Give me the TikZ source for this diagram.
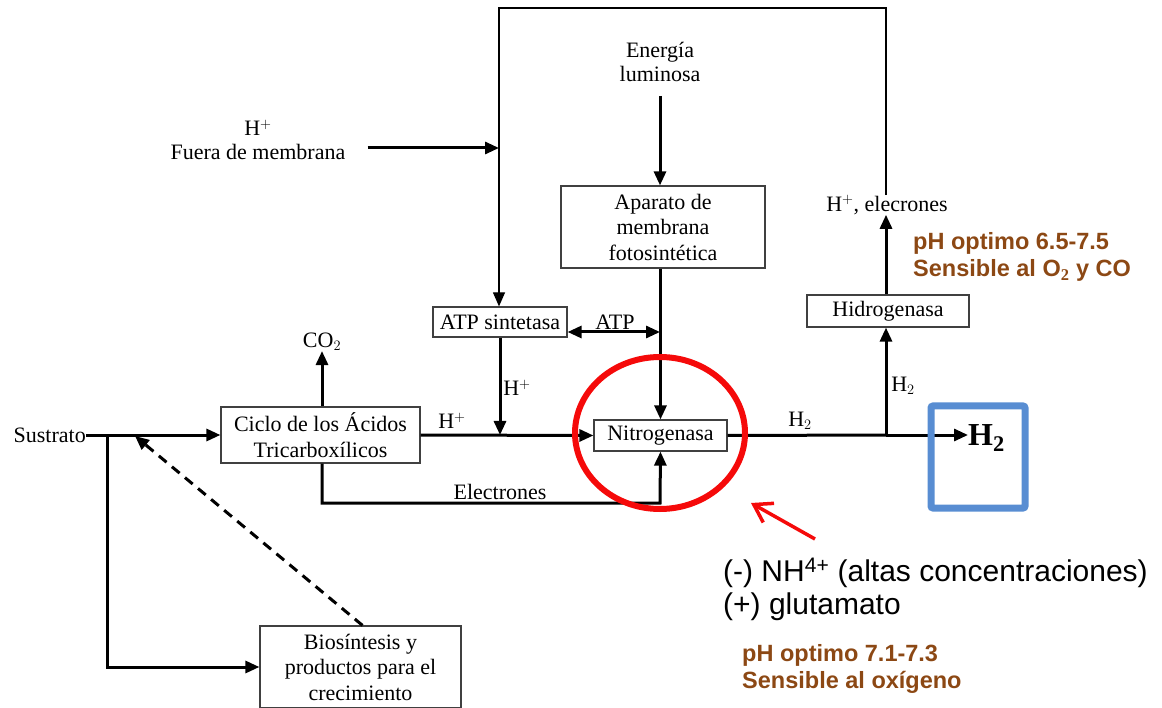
\documentclass[tikz,border=0pt]{standalone}
\usepackage{fontspec}
\setmainfont{Liberation Serif}
\newfontfamily\arial{Liberation Sans}
\usetikzlibrary{arrows.meta,calc}
\definecolor{notebrown}{RGB}{140,72,20}
\definecolor{markred}{RGB}{245,10,10}
\definecolor{markblue}{RGB}{88,141,210}
\tikzset{
  lbl/.style={inner sep=0pt,align=center,font=\fontsize{22}{24}\selectfont},
  procbox/.style={draw=black!75,line width=1.2pt,inner sep=0pt,align=center,
    font=\fontsize{22}{25.5}\selectfont},
  tip/.tip={Triangle[length=14pt,width=12pt]},
  flow/.style={line width=3pt,-tip},
  flowline/.style={line width=3pt},
  thinflow/.style={line width=1.2pt,-tip},
  note/.style={inner sep=0pt,anchor=west,align=left,font=\arial\fontsize{30}{34}\selectfont},
  brownnote/.style={inner sep=0pt,anchor=west,align=left,text=notebrown,
    font=\arial\bfseries\fontsize{23.5}{27}\selectfont},
}
\begin{document}
\begin{tikzpicture}[x=1pt,y=-1pt]
\useasboundingbox (0,0) rectangle (1162,708);

% process boxes
\node[procbox,minimum width=199pt,minimum height=56pt] (ciclo) at (320.5,435)
  {Ciclo de los Ácidos\\Tricarboxílicos};
\node[procbox,minimum width=133pt,minimum height=31pt] (nitro) at (660.5,435.5) {Nitrogenasa};
\node[procbox,minimum width=134pt,minimum height=30pt] (atp) at (500,322) {ATP sintetasa};
\node[procbox,minimum width=204pt,minimum height=82pt] (apar) at (663,227)
  {Aparato de\\membrana\\fotosintética};
\node[procbox,minimum width=162pt,minimum height=32pt] (hidro) at (888,311) {Hidrogenasa};
\node[procbox,minimum width=201pt,minimum height=82pt] (bio) at (360.5,667)
  {Biosíntesis y\\productos para el\\crecimiento};

% free labels
\node[lbl,anchor=east] (sus) at (86,435) {Sustrato};
\node[lbl] (energia) at (660,62) {Energía\\luminosa};
\node[lbl] (fuera) at (258,140) {H$^{+}$\\Fuera de membrana};
\node[lbl] (co2) at (322,342) {CO$_2$};
\node[lbl] (helec) at (887,205) {H$^{+}$, elecrones};
\node[inner sep=0pt,anchor=west,font=\bfseries\fontsize{32}{36}\selectfont] (h2big) at (968,438) {H$_\mathbf{2}$};
\node[lbl] (lh1) at (452,421) {H$^{+}$};
\node[lbl] (lh2) at (517,388) {H$^{+}$};
\node[lbl] (latp) at (615,322) {ATP};
\node[lbl] (lelec) at (500,492) {Electrones};
\node[lbl] (lh3) at (800,421) {H$_2$};
\node[lbl] (lh4) at (903,386) {H$_2$};

% junction points
\coordinate (jsus) at (107,435);
\coordinate (jfb) at (135,436);
\coordinate (jh) at (500,435);
\coordinate (jatp) at (660,332);
\coordinate (jel) at (660,503);
\coordinate (jh2) at (886,435);
\coordinate (ftop) at (886,8);
\coordinate (fin) at (499,148);

% main chain
\draw[flow] (sus.east) -- (ciclo.west);
\draw[flow] (jsus) |- (bio.west);
\draw[line width=3pt,dash pattern=on 10pt off 7pt,-tip]
  ($(bio.north)+(2,0)$) -- (jfb);
\draw[flow] ($(ciclo.north)+(1.5,0)$) -- (co2.south);
\draw[flow] (ciclo.east) -- (nitro.west);
\draw[flow] (atp.south) -- (jh);
\draw[flow] (energia.south) ++(0,14) -- (apar.north -| energia.south);
\draw[flow] (apar.south -| nitro.north) -- (nitro.north);
\draw[line width=3pt,tip-tip] ($(atp.east)+(0,10)$) -- (jatp);
\draw[flow] ($(ciclo.south)+(1.5,0)$) |- (jel) -- (nitro.south);
\draw[flowline] (nitro.east) -- (jh2);
\draw[flow] (jh2) -- (jh2 -| h2big.west);
\draw[flow] (jh2) -- (hidro.south -| jh2);
\draw[flow] (hidro.north -| jh2) -- (helec.south -| jh2);

% feedback loop over the top
\draw[thinflow] (helec.north -| jh2) -- (ftop) -| (atp.north -| fin);
\draw[flow] ($(fuera.east)+(22,8)$) -- (fin);

% highlights
\draw[markred,line width=6pt] (660,433) ellipse [x radius=85pt,y radius=76pt];
\draw[markred,line width=3.5pt,-{Straight Barb[length=17pt,width=22pt]}] (815,539) -- (751,503);
\draw[markblue,line width=7pt,rounded corners=2pt] (931,406) rectangle (1025,508);

% annotations
\node[note] (nh) at (723,573) {(-) NH\textsuperscript{4+} (altas concentraciones)};
\node[note] (glu) at (723,607) {(+) glutamato};
\node[brownnote] (ph1) at (742,669) {pH optimo 7.1-7.3\\Sensible al oxígeno};
\node[brownnote] (ph2) at (913,257) {pH optimo 6.5-7.5\\Sensible al O$_\mathbf{2}$ y CO};
\end{tikzpicture}
\end{document}
